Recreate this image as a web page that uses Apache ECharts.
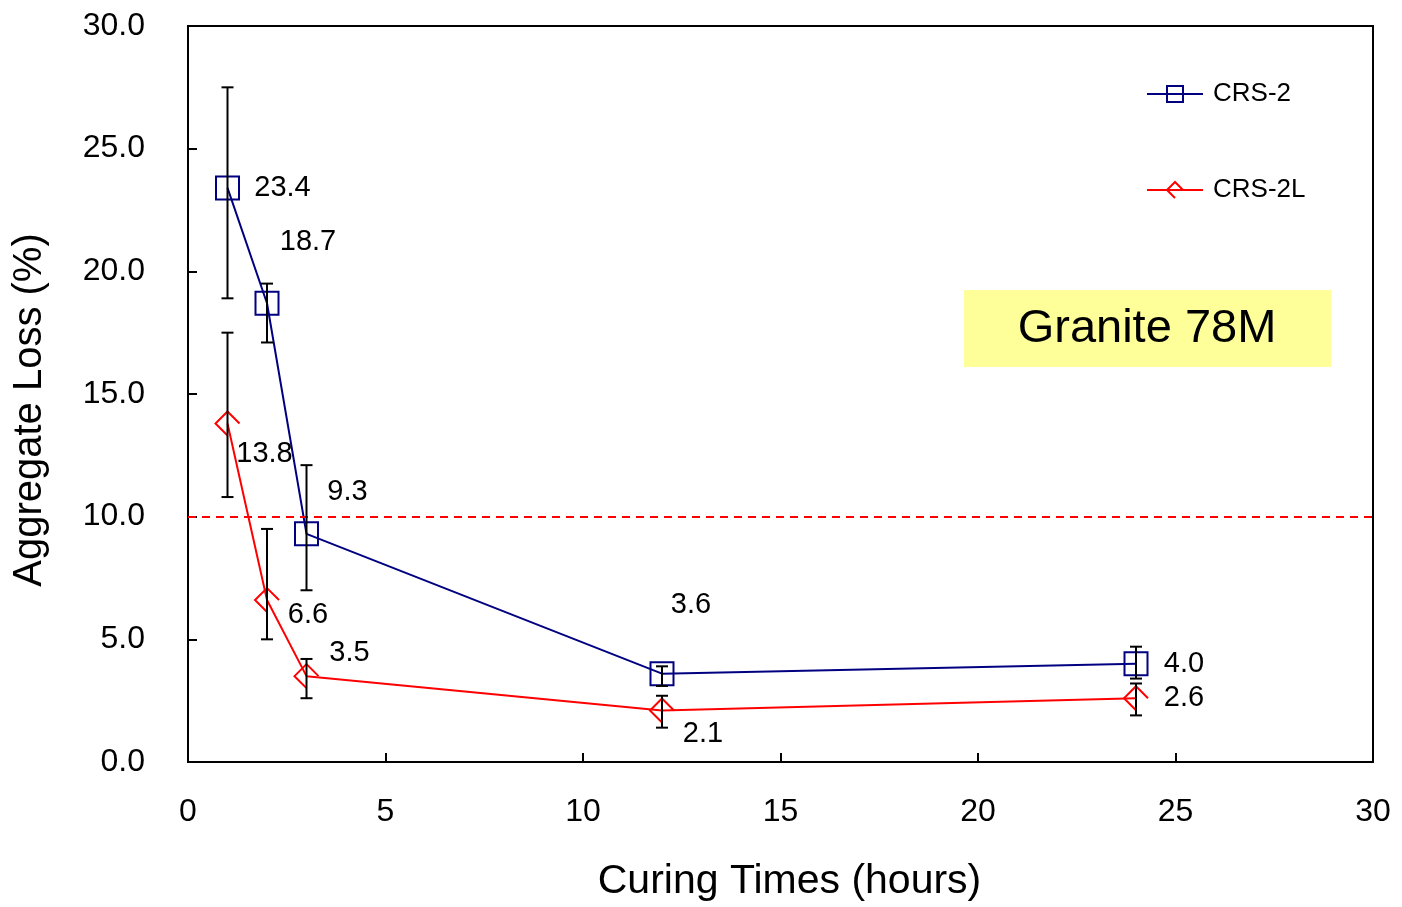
<!DOCTYPE html>
<html>
<head>
<meta charset="utf-8">
<script src="https://cdn.jsdelivr.net/npm/echarts@6/dist/echarts.min.js"></script>
<style>
  html, body { margin: 0; padding: 0; background: #fff; }
  #chart { width: 1402px; height: 907px; }
</style>
</head>
<body>
<div id="chart"></div>
<script>
// curing times (hours)
const hours = [1, 2, 3, 12, 24];
// aggregate loss (%)
const crs2 = [23.4, 18.7, 9.3, 3.6, 4.0];
const crs2L = [13.8, 6.6, 3.5, 2.1, 2.6];
// error bar ranges [low, high]
const crs2Err = [[18.9, 27.5], [17.1, 19.5], [7.0, 12.1], [3.1, 3.9], [3.4, 4.7]];
const crs2LErr = [[10.8, 17.5], [5.0, 9.5], [2.6, 4.2], [1.4, 2.7], [1.9, 3.2]];
const limitValue = 10;

// label offsets in px (layout, not data)
const crs2LabelOff = [[55, 0], [41, -61], [41, -42], [29, -69], [48, 0]];
const crs2LLabelOff = [[37, 31], [41, 15], [43, -23], [41, 24], [48, 0]];

const FONT = 'Liberation Sans, Arial, sans-serif';
const chart = echarts.init(document.getElementById('chart'), null, { renderer: 'canvas' });

function points(vals, offs) {
    return vals.map((v, i) => ({
        value: [hours[i], v],
        label: { offset: offs[i] }
    }));
}

function errSeries(errs) {
    return {
        type: 'custom',
        silent: true,
        z: 5,
        data: errs.map((e, i) => [hours[i], e[0], e[1]]),
        renderItem: function (params, api) {
            const lo = api.coord([api.value(0), api.value(1)]);
            const hi = api.coord([api.value(0), api.value(2)]);
            const w = 6;
            const style = { stroke: '#000', lineWidth: 2 };
            return {
                type: 'group',
                children: [
                    { type: 'line', shape: { x1: lo[0], y1: lo[1], x2: hi[0], y2: hi[1] }, style: style },
                    { type: 'line', shape: { x1: lo[0] - w, y1: lo[1], x2: lo[0] + w, y2: lo[1] }, style: style },
                    { type: 'line', shape: { x1: hi[0] - w, y1: hi[1], x2: hi[0] + w, y2: hi[1] }, style: style }
                ]
            };
        }
    };
}

const labelStyle = {
    show: true,
    position: 'inside',
    color: '#000',
    fontSize: 29,
    fontFamily: FONT,
    formatter: p => p.value[1].toFixed(1)
};

const axisLine = { show: true, onZero: false, lineStyle: { color: '#000', width: 2 } };

chart.setOption({
    animation: false,
    backgroundColor: '#fff',
    grid: { left: 188, right: 29, top: 26, bottom: 144, show: true, borderColor: '#000', borderWidth: 2 },
    xAxis: {
        type: 'value',
        min: 0, max: 30, interval: 5,
        name: 'Curing Times (hours)',
        nameLocation: 'middle',
        nameGap: 99,
        nameTextStyle: { fontSize: 41, fontFamily: FONT, color: '#000', padding: [0, 0, 0, 18] },
        axisLine: axisLine,
        axisTick: { show: true, inside: true, length: 9, lineStyle: { color: '#000', width: 2 } },
        axisLabel: { fontSize: 32, fontFamily: FONT, color: '#000', margin: 34 },
        splitLine: { show: false }
    },
    yAxis: {
        type: 'value',
        min: 0, max: 30, interval: 5,
        name: 'Aggregate Loss (%)',
        nameLocation: 'middle',
        nameGap: 138,
        nameTextStyle: { fontSize: 40, fontFamily: FONT, color: '#000', padding: [0, 32, 0, 0] },
        axisLine: axisLine,
        axisTick: { show: true, inside: true, length: 9, lineStyle: { color: '#000', width: 2 } },
        axisLabel: { fontSize: 32, fontFamily: FONT, color: '#000', margin: 43, formatter: v => v.toFixed(1) },
        splitLine: { show: false }
    },
    legend: {
        left: 1141,
        top: 76,
        orient: 'vertical',
        itemGap: 70,
        itemWidth: 56,
        itemHeight: 20,
        textStyle: { fontSize: 26, fontFamily: FONT, color: '#000', padding: [0, 0, 0, 5] },
        data: ['CRS-2', 'CRS-2L']
    },
    graphic: [{
        type: 'group',
        left: 964,
        top: 290,
        children: [
            { type: 'rect', shape: { x: 0, y: 0, width: 367, height: 77 }, style: { fill: '#FFFF99' } },
            { type: 'text', x: 183, y: 39, style: { text: 'Granite 78M', fontSize: 47, fontFamily: FONT, fill: '#000', align: 'center', verticalAlign: 'middle' } }
        ]
    }],
    series: [
        errSeries(crs2Err),
        errSeries(crs2LErr),
        {
            name: 'CRS-2',
            type: 'line',
            z: 4,
            data: points(crs2, crs2LabelOff),
            symbol: 'rect',
            symbolSize: 23,
            lineStyle: { color: '#000080', width: 2 },
            itemStyle: { color: 'rgba(0,0,0,0)', borderColor: '#000080', borderWidth: 2 },
            showAllSymbol: true,
            emphasis: { disabled: true },
            label: labelStyle,
            markLine: {
                silent: true,
                symbol: ['none', 'none'],
                label: { show: false },
                lineStyle: { color: '#FF0000', type: [8, 6], width: 2 },
                data: [{ yAxis: limitValue }]
            }
        },
        {
            name: 'CRS-2L',
            type: 'line',
            z: 4,
            data: points(crs2L, crs2LLabelOff),
            symbol: 'path://M10,20 L0,10 L10,0 L20,10',
            symbolSize: 24,
            lineStyle: { color: '#FF0000', width: 2 },
            itemStyle: { color: 'rgba(0,0,0,0)', borderColor: '#FF0000', borderWidth: 2 },
            showAllSymbol: true,
            emphasis: { disabled: true },
            label: labelStyle
        }
    ]
});

window.addEventListener('resize', () => chart.resize());
</script>
</body>
</html>
